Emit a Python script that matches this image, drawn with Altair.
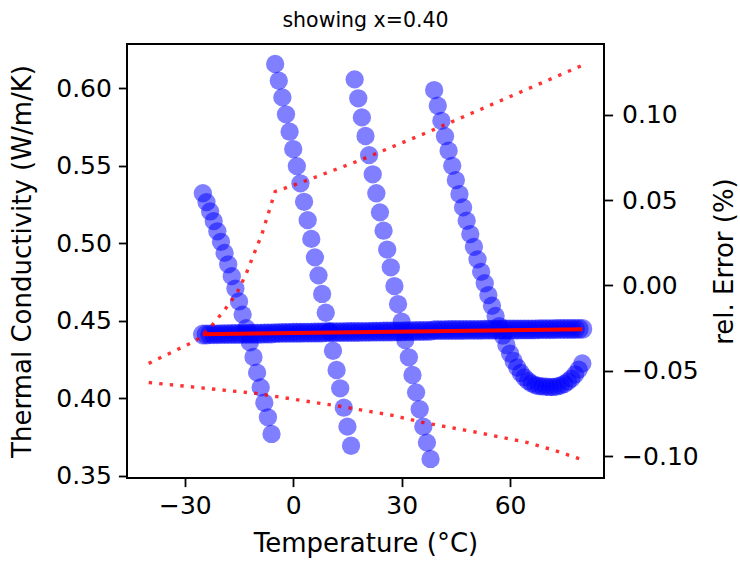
import altair as alt
import pandas as pd

# ---- data ----
# temperatures (°C) of the measured points, four runs
temps_a = [-25, -24, -23, -22, -21, -20, -19, -18, -17, -16, -15, -14, -13, -12, -11, -10, -9, -8, -7, -6]
temps_b = [-5, -4, -3, -2, -1, 0, 1, 2, 3, 4, 5, 6, 7, 8, 9, 10, 11, 12, 13, 14, 15, 16]
temps_c = [17, 18, 19, 20, 21, 22, 23, 24, 25, 26, 27, 28, 29, 30, 31, 32, 33, 34, 35, 36, 37, 38]
temps_d = [39, 40, 41, 42, 43, 44, 45, 46, 47, 48, 49, 50, 51, 52, 53, 54, 55, 56, 57, 58, 59, 60,
           61, 62, 63, 64, 65, 66, 67, 68, 69, 70, 71, 72, 73, 74, 75, 76, 77, 78, 79, 80]

# measured thermal conductivity (light points)
k_a = [0.5322, 0.5265, 0.5205, 0.5143, 0.5077, 0.5009, 0.4938, 0.4864, 0.4788, 0.4708,
       0.4625, 0.4540, 0.4452, 0.4361, 0.4267, 0.4166, 0.4071, 0.3972, 0.3878, 0.3771]
k_b = [0.6155, 0.6047, 0.5940, 0.5831, 0.5719, 0.5607, 0.5497, 0.5386, 0.5267, 0.5149, 0.5028,
       0.4909, 0.4793, 0.4673, 0.4552, 0.4431, 0.4307, 0.4183, 0.4065, 0.3940, 0.3818, 0.3695]
k_c = [0.6056, 0.5934, 0.5811, 0.5691, 0.5568, 0.5444, 0.5322, 0.5199, 0.5081, 0.4959, 0.4845,
       0.4724, 0.4608, 0.4494, 0.4376, 0.4265, 0.4151, 0.4039, 0.3930, 0.3818, 0.3715, 0.3610]
k_d = [0.5987, 0.5886, 0.5789, 0.5690, 0.5596, 0.5499, 0.5407, 0.5317, 0.5231, 0.5145, 0.5059,
       0.4977, 0.4896, 0.4816, 0.4742, 0.4666, 0.4597, 0.4531, 0.4466, 0.4404, 0.4344, 0.4289,
       0.4241, 0.4199, 0.4164, 0.4135, 0.4112, 0.4096, 0.4086, 0.4080, 0.4077, 0.4075, 0.4074,
       0.4074, 0.4077, 0.4083, 0.4093, 0.4109, 0.4128, 0.4154, 0.4186, 0.4225]

# thermal conductivity at x=0.40 (dense dark points)
kx_a = [0.4412, 0.4412, 0.4413, 0.4413, 0.4413, 0.4414, 0.4414, 0.4414, 0.4415, 0.4415,
        0.4415, 0.4416, 0.4416, 0.4416, 0.4417, 0.4417, 0.4417, 0.4418, 0.4418, 0.4418]
kx_b = [0.4421, 0.4421, 0.4422, 0.4422, 0.4422, 0.4423, 0.4423, 0.4423, 0.4424, 0.4424, 0.4424,
        0.4425, 0.4425, 0.4425, 0.4426, 0.4426, 0.4426, 0.4427, 0.4427, 0.4427, 0.4428, 0.4428]
kx_c = [0.4428, 0.4428, 0.4429, 0.4429, 0.4429, 0.4430, 0.4430, 0.4430, 0.4431, 0.4431, 0.4431,
        0.4432, 0.4432, 0.4432, 0.4433, 0.4433, 0.4433, 0.4434, 0.4434, 0.4434, 0.4435, 0.4435]
kx_d = [0.4440, 0.4440, 0.4440, 0.4440, 0.4441, 0.4441, 0.4441, 0.4441, 0.4441, 0.4442, 0.4442,
        0.4442, 0.4442, 0.4442, 0.4443, 0.4443, 0.4443, 0.4443, 0.4443, 0.4444, 0.4444, 0.4444,
        0.4444, 0.4444, 0.4445, 0.4445, 0.4445, 0.4445, 0.4445, 0.4446, 0.4446, 0.4446, 0.4446,
        0.4446, 0.4447, 0.4447, 0.4447, 0.4447, 0.4447, 0.4447, 0.4448, 0.4448]

# fitted line
fit_T = [-25, 80]
fit_k = [0.4414, 0.4446]

# relative error bounds (right axis, %)
upper_T = [-40, -26.9, -22.7, -18.9, -15.5, -13.0, -10.8, -8.6, -6.9, -5.0, 2.2, 18.3, 37.7, 80]
upper_e = [-0.0457, -0.0323, -0.0240, -0.0141, -0.0041, 0.0070, 0.0188, 0.0305, 0.0422,
           0.0551, 0.0604, 0.0733, 0.0903, 0.1291]
lower_T = [-40, -10.3, 13.3, 27.5, 35.8, 50.0, 64.6, 72.0, 80]
lower_e = [-0.0569, -0.0633, -0.0710, -0.0762, -0.0803, -0.0858, -0.0920, -0.0965, -0.1022]

x_ticks = [-30, 0, 30, 60]
k_ticks = [0.35, 0.40, 0.45, 0.50, 0.55, 0.60]
e_ticks = [-0.10, -0.05, 0.00, 0.05, 0.10]

# ---- tables ----
meas = pd.DataFrame({"T": temps_a + temps_b + temps_c + temps_d,
                     "k": k_a + k_b + k_c + k_d})
band = pd.DataFrame({"T": temps_a + temps_b + temps_c + temps_d,
                     "k": kx_a + kx_b + kx_c + kx_d})
fit = pd.DataFrame({"T": fit_T, "k": fit_k})
bounds = pd.DataFrame({
    "T": upper_T + lower_T,
    "e": upper_e + lower_e,
    "bound": ["upper"] * len(upper_T) + ["lower"] * len(lower_T),
})

FONT = "DejaVu Sans"

x_enc = alt.X("T:Q",
              scale=alt.Scale(domain=[-46, 86], nice=False, zero=False),
              axis=alt.Axis(values=x_ticks, format="d", title="Temperature (°C)",
                            titlePadding=12))
yk_enc = alt.Y("k:Q",
               scale=alt.Scale(domain=[0.3487, 0.6284], nice=False, zero=False),
               axis=alt.Axis(orient="left", values=k_ticks, format=".2f",
                             title="Thermal Conductivity (W/m/K)", titlePadding=20))
ye_enc = alt.Y("e:Q",
               scale=alt.Scale(domain=[-0.1129, 0.1416], nice=False, zero=False),
               axis=alt.Axis(orient="right", values=e_ticks, format=".2f",
                             title="rel. Error (%)", titleAngle=270, titlePadding=39,
                             labelPadding=9))

light = alt.Chart(meas).mark_circle(size=335, color="#0000ff", opacity=0.5).encode(
    x=x_enc, y=yk_enc)
dark = alt.Chart(band).mark_circle(size=395, color="#0000ff", opacity=0.5).encode(
    x=x_enc, y=yk_enc)
redline = alt.Chart(fit).mark_line(color="#ff0000", strokeWidth=4).encode(
    x=x_enc, y=yk_enc)

left = alt.layer(light, dark, redline)

dotted = alt.Chart(bounds).mark_line(
    color="#ff0000", opacity=0.8, strokeWidth=3.4, strokeDash=[3.4, 7.2], strokeCap="butt"
).encode(x=x_enc, y=ye_enc, detail="bound:N")

chart = alt.layer(left, dotted).resolve_scale(y="independent").properties(
    width=477, height=434,
    title=alt.TitleParams("showing x=0.40", font=FONT, fontSize=20.5, fontWeight="normal",
                          anchor="middle", baseline="bottom", offset=10, dy=17,
                          color="black"),
    autosize=alt.AutoSizeParams(type="none"),
    padding={"left": 127, "top": 44, "right": 136, "bottom": 85},
).configure_view(
    stroke="black", strokeWidth=2
).configure_axis(
    labelFont=FONT, titleFont=FONT, labelFontSize=25, titleFontSize=26,
    titleFontWeight="normal", labelColor="black", titleColor="black",
    tickColor="black", tickSize=8.6, tickWidth=1.8, labelPadding=7,
    domain=False, grid=False,
)

chart.save("out.html", embed_options={"renderer": "svg", "actions": False})
